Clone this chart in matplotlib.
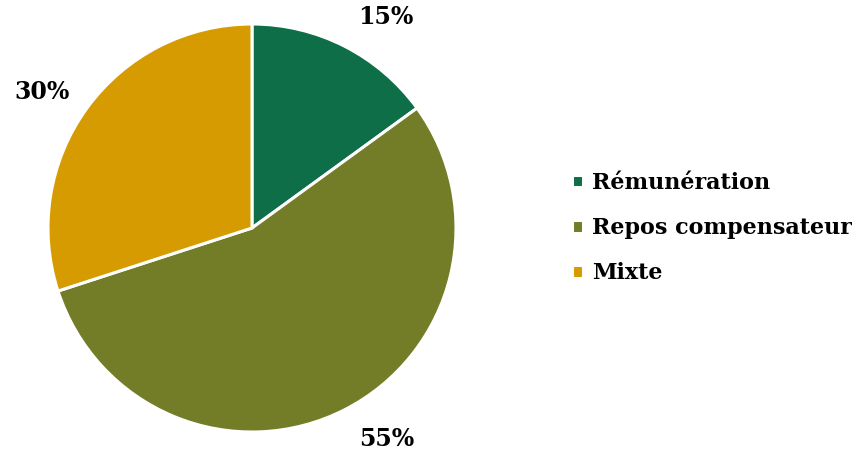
#!/usr/bin/env python3

import numpy as np
import matplotlib
matplotlib.use('Agg')
import matplotlib.pyplot as plt

labels = ['Rémunération', 'Repos compensateur', 'Mixte']
shares = [15, 55, 30]
colors = ['#0D6E48', '#737C27', '#D69B00']

plt.rcParams['font.family'] = ['DejaVu Serif']
plt.rcParams['font.weight'] = 'bold'


def main():
    fig = plt.figure(figsize=(8.52, 4.5), dpi=100)
    ax = fig.add_axes([48 / 852, 18 / 450, 408 / 852, 408 / 450])

    wedges, texts, autotexts = ax.pie(
        shares, colors=colors, startangle=90, counterclock=False,
        autopct='%d%%', pctdistance=1.22,
        wedgeprops=dict(edgecolor='white', linewidth=2.2))

    # push the outside labels a bit toward the horizontal, like excel does
    nudge = [5.5, 5.5, 3.0]
    for w, t, d in zip(wedges, autotexts, nudge):
        mid = np.deg2rad((w.theta1 + w.theta2) / 2)
        shift = np.deg2rad(d) * np.sign(np.sin(mid)) * np.sign(np.cos(mid))
        ang = mid - shift
        t.set_position((1.225 * np.cos(ang), 1.225 * np.sin(ang)))
        t.set_fontsize(17)
        t.set_fontweight('bold')
        t.set_color('black')
    ax.set_xlim(-1, 1)
    ax.set_ylim(-1, 1)

    fig.legend(wedges, labels, loc='center left',
               bbox_to_anchor=(572 / 852, 0.493), bbox_transform=fig.transFigure,
               frameon=False, fontsize=16, handlelength=0.5, handleheight=0.5,
               handletextpad=0.4, labelspacing=1.05, borderpad=0, borderaxespad=0)

    fig.savefig('out.png', dpi=100)


if __name__ == '__main__':
    main()
